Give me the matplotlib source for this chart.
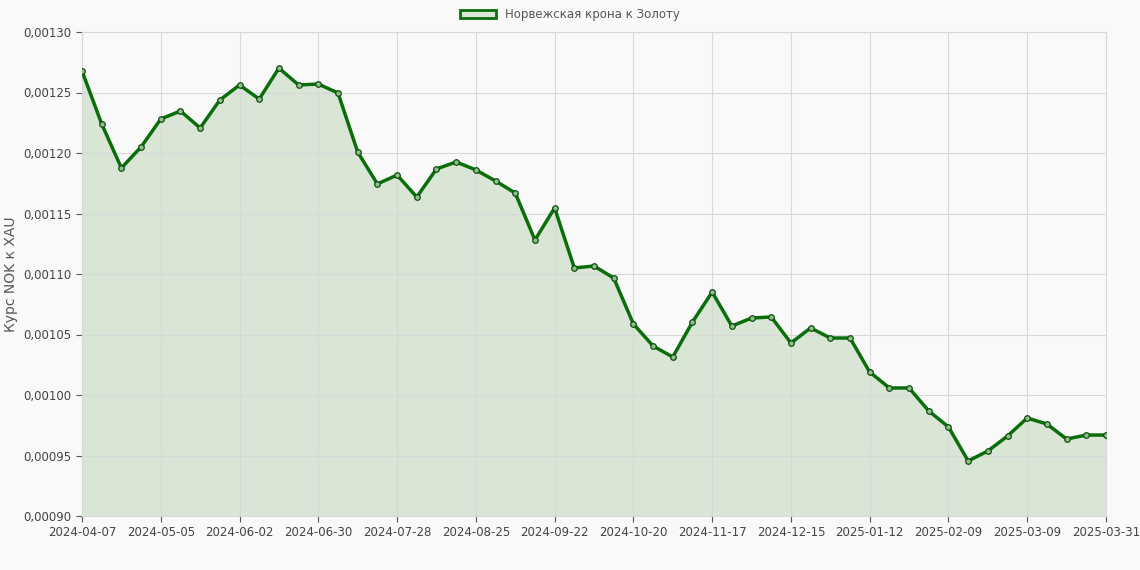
import matplotlib
matplotlib.use("Agg")
import matplotlib.pyplot as plt
import pandas as pd
from matplotlib.patches import Patch

dates = [d.strftime("%Y-%m-%d") for d in pd.date_range("2024-04-07", periods=52, freq="7D")] + ["2025-03-31"]
values = [0.0012678, 0.0012240, 0.0011876, 0.0012050, 0.0012281, 0.0012347, 0.0012207, 0.0012438,
          0.0012562, 0.0012446, 0.0012702, 0.0012562, 0.0012570, 0.0012496, 0.0012008, 0.0011744,
          0.0011818, 0.0011636, 0.0011868, 0.0011926, 0.0011860, 0.0011769, 0.0011669, 0.0011281,
          0.0011546, 0.0011050, 0.0011066, 0.0010967, 0.0010587, 0.0010405, 0.0010314, 0.0010603,
          0.0010851, 0.0010570, 0.0010636, 0.0010645, 0.0010430, 0.0010554, 0.0010471, 0.0010471,
          0.0010190, 0.0010058, 0.0010058, 0.0009868, 0.0009736, 0.0009455, 0.0009537, 0.0009661,
          0.0009810, 0.0009760, 0.0009636, 0.0009669, 0.0009669]
label = "Норвежская крона к Золоту"
green = "#0a6e0a"

fig = plt.figure(figsize=(11.4, 5.7), dpi=100, facecolor="#f9f9f9")
ax = fig.add_axes([82/1140, 1-516/570, (1106-82)/1140, (516-32)/570])
ax.set_facecolor("#f9f9f9")
x = list(range(len(values)))
ax.fill_between(x, values, 0.0009, color="#d9e6d6", zorder=1)
ax.plot(x, values, color=green, lw=2.5, zorder=3)
ax.scatter(x, values, s=16, facecolor="#8fbf8a", edgecolor="#0d4d0d", lw=0.9, zorder=4)
ax.set_xlim(0, len(values)-1)
ax.set_ylim(0.0009, 0.0013)
ticks = list(range(0, len(values)-1, 4)) + [len(values)-1]
ax.set_xticks(ticks)
ax.set_xticklabels([dates[i] for i in ticks])
yt = [0.0009 + 0.00005*i for i in range(9)]
ax.set_yticks(yt)
ax.set_yticklabels([f"{v:.5f}".replace(".", ",") for v in yt])
ax.tick_params(labelsize=8.5, colors="#555555", length=4)
for lab in ax.get_xticklabels() + ax.get_yticklabels():
    lab.set_color("#444444")
ax.grid(True, color="#d8d8d8", lw=0.8)
for s in ax.spines.values():
    s.set_color("#d8d8d8")
ax.set_ylabel("Курс NOK к XAU", fontsize=10, color="#555555")
fig.legend(handles=[Patch(facecolor="#d9e6d6", edgecolor=green, lw=2, label=label)],
           loc="upper center", bbox_to_anchor=(0.5, 1.005), frameon=False, fontsize=8.5,
           handlelength=3, labelcolor="#555555")
fig.savefig("out.png", dpi=100, facecolor=fig.get_facecolor())
